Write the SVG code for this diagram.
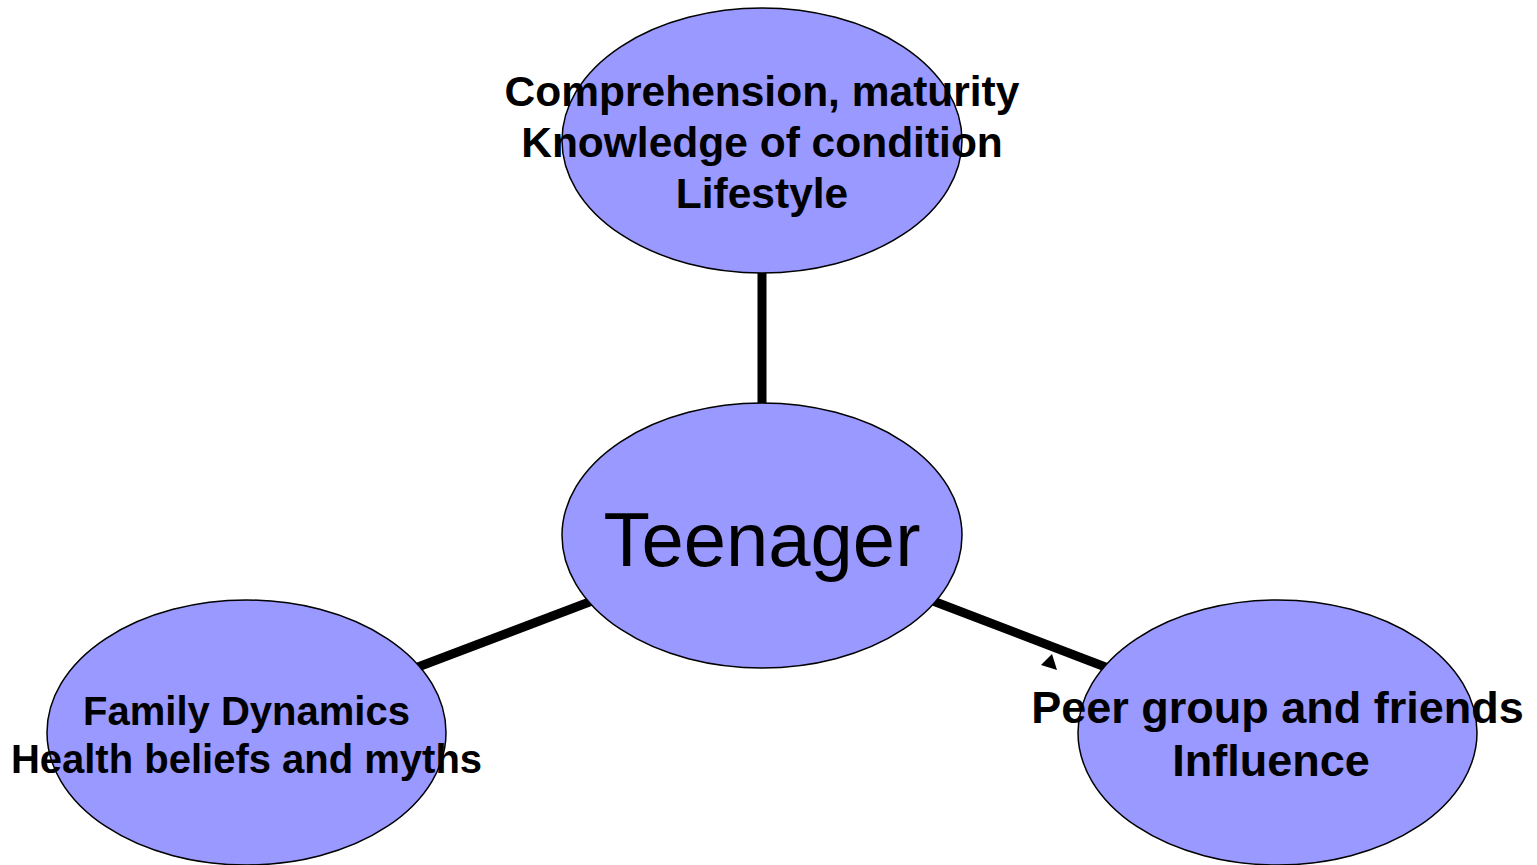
<svg xmlns="http://www.w3.org/2000/svg" width="1537" height="865" viewBox="0 0 1537 865">
  <style>
    .node { fill: #9999ff; stroke: #000; stroke-width: 1.5; }
    .link { stroke: #000; stroke-width: 9; fill: none; }
    .lbl { font-family: "Liberation Sans", Arial, sans-serif; font-weight: bold; fill: #000; text-anchor: middle; }
    .hub { font-family: "Liberation Sans", Arial, sans-serif; fill: #000; text-anchor: middle; }
  </style>
  <rect width="1537" height="865" fill="#fff"/>

  <g id="connectors">
    <line class="link" x1="762" y1="270" x2="762" y2="405"/>
    <line class="link" x1="418" y1="667" x2="592" y2="601"/>
    <line class="link" x1="933" y1="601" x2="1108" y2="668"/>
    <polygon points="1041,665 1052,654 1057,670" fill="#000"/>
  </g>

  <g id="node-top">
    <ellipse class="node" cx="762" cy="140.5" rx="200" ry="132.5"/>
    <text class="lbl" font-size="42.5" x="762" y="106">Comprehension, maturity</text>
    <text class="lbl" font-size="42.5" x="762" y="157">Knowledge of condition</text>
    <text class="lbl" font-size="42.5" x="762" y="208">Lifestyle</text>
  </g>

  <g id="node-center">
    <ellipse class="node" cx="762" cy="535.5" rx="200" ry="132.5"/>
    <text class="hub" font-size="76" x="762" y="566">Teenager</text>
  </g>

  <g id="node-left">
    <ellipse class="node" cx="246.5" cy="732.5" rx="199.5" ry="132.5"/>
    <text class="lbl" font-size="40" x="246.5" y="725">Family Dynamics</text>
    <text class="lbl" font-size="40" x="246.5" y="773">Health beliefs and myths</text>
  </g>

  <g id="node-right">
    <ellipse class="node" cx="1277.5" cy="732.5" rx="199.5" ry="132.5"/>
    <text class="lbl" font-size="45" x="1277.5" y="723">Peer group and friends</text>
    <text class="lbl" font-size="45" x="1271" y="776">Influence</text>
  </g>
</svg>
